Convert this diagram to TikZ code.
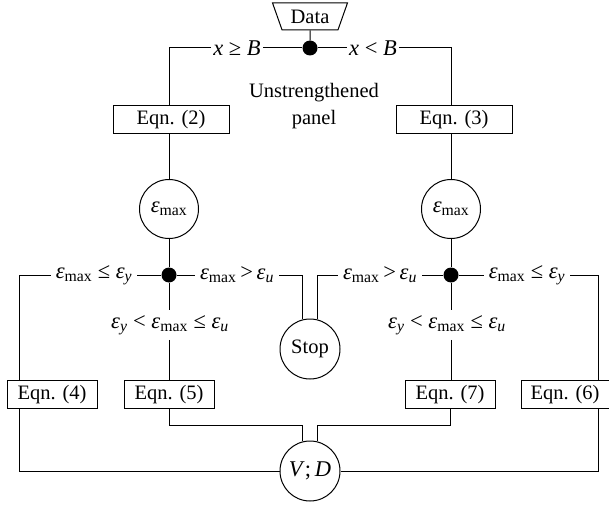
\documentclass[tikz,border=0pt]{standalone}
\usepackage{fontspec}
\setmainfont{Liberation Serif}
\usetikzlibrary{shapes.geometric}
\newcommand{\ep}{\textit{ε}}
\newcommand{\epmax}{\ep\textsubscript{max}}
\newcommand{\epsub}[1]{\ep\textsubscript{\textit{#1}}}
\begin{document}
\begin{tikzpicture}[x=1pt,y=-1pt,
  every node/.style={font=\fontsize{20.5}{24}\selectfont},
  mathfont/.style={font=\fontsize{22.5}{26}\selectfont},
  box/.style={draw, line width=1pt, minimum height=28pt, inner sep=0pt},
  circ/.style={draw, circle, line width=1pt, minimum size=59pt, inner sep=0pt},
  dotnode/.style={circle, fill=black, minimum size=15pt, inner sep=0pt},
  lab/.style={mathfont, inner sep=2pt},
  lab2/.style={mathfont, inner sep=5pt},
  conn/.style={line width=1pt}]
\useasboundingbox (0,0) rectangle (609,505);

% top
\node[trapezium, draw, line width=1pt, trapezium stretches=true, shape border rotate=180,
  minimum width=75pt, minimum height=27pt, trapezium left angle=66, trapezium right angle=66,
  inner sep=1pt] (data) at (310,16.5) {Data};
\node[dotnode] (dot1) at (310,48) {};
\node[lab] (lx1) at (237,48) {\textit{x} ≥ \textit{B}};
\node[lab] (lx2) at (373,48) {\textit{x} < \textit{B}};
\node[align=center, font=\fontsize{20.5}{27}\selectfont] (unstr) at (314,106) {Unstrengthened\\panel};

\node[box, minimum width=116pt] (eq2) at (171,119.5) {Eqn. (2)};
\node[box, minimum width=116pt] (eq3) at (454,119.5) {Eqn. (3)};
\node[circ, mathfont] (em1) at (169,209) {\epmax};
\node[circ, mathfont] (em2) at (451,209) {\epmax};

% middle
\node[dotnode] (dot2) at (169,275) {};
\node[dotnode] (dot3) at (451,275) {};
\node[lab2] (L1) at (94,275) {\epmax\ ≤ \epsub{y}};
\node[lab2] (L2) at (237,275) {\epmax\,>\,\epsub{u}};
\node[lab2] (L3) at (380,275) {\epmax\,>\,\epsub{u}};
\node[lab2] (L4) at (527,275) {\epmax\ ≤ \epsub{y}};
\node[lab2] (L5) at (170,325) {\epsub{y} < \epmax\ ≤ \epsub{u}};
\node[lab2] (L6) at (447,325) {\epsub{y} < \epmax\ ≤ \epsub{u}};
\node[circ, minimum size=60pt] (stop) at (310,349) {Stop};

% bottom
\node[box, minimum width=90pt] (eq4) at (52,394.5) {Eqn. (4)};
\node[box, minimum width=90pt] (eq5) at (169,394.5) {Eqn. (5)};
\node[box, minimum width=90pt] (eq7) at (450,394.5) {Eqn. (7)};
\node[box, minimum width=88pt] (eq6) at (565,394.5) {Eqn. (6)};
\node[circ, minimum size=60pt, mathfont] (vd) at (310,471) {\textit{V};\,\textit{D}};

\path (eq4.north west) ++(13,0) coordinate (eq4t);
\path (eq4.south west) ++(13,0) coordinate (eq4b);
\path (eq6.north east) ++(-11,0) coordinate (eq6t);
\path (eq6.south east) ++(-11,0) coordinate (eq6b);
\path (vd.104) ++(0,-16) coordinate (j1);
\path (vd.76) ++(0,-16) coordinate (j2);

% connectors
\draw[conn] (data) -- (dot1);
\draw[conn] (dot1) -- (lx1.east);
\draw[conn] (lx1.west) -| (eq2.north -| em1);
\draw[conn] (dot1) -- (lx2.west);
\draw[conn] (lx2.east) -| (eq3.north -| em2);
\draw[conn] (eq2.south -| em1) -- (em1);
\draw[conn] (eq3.south -| em2) -- (em2);
\draw[conn] (em1) -- (dot2);
\draw[conn] (em2) -- (dot3);

\draw[conn] (dot2) -- (L1.east);
\draw[conn] (L1.west) -| (eq4t);
\draw[conn] (dot2) -- (L2.west);
\draw[conn] (L2.east) -| (stop.104);
\draw[conn] (dot3) -- (L3.east);
\draw[conn] (L3.west) -| (stop.76);
\draw[conn] (dot3) -- (L4.west);
\draw[conn] (L4.east) -| (eq6t);
\draw[conn] (dot2) -- (L5.north -| dot2);
\draw[conn] (L5.south -| dot2) -- (eq5.north -| dot2);
\draw[conn] (dot3) -- (L6.north -| dot3);
\draw[conn] (L6.south -| dot3) -- (eq7.north -| dot3);

\draw[conn] (eq5.south) |- (j1) -- (vd.104);
\draw[conn] (eq7.south) |- (j2) -- (vd.76);
\draw[conn] (eq4b) |- (vd.west);
\draw[conn] (eq6b) |- (vd.east);
\end{tikzpicture}
\end{document}
